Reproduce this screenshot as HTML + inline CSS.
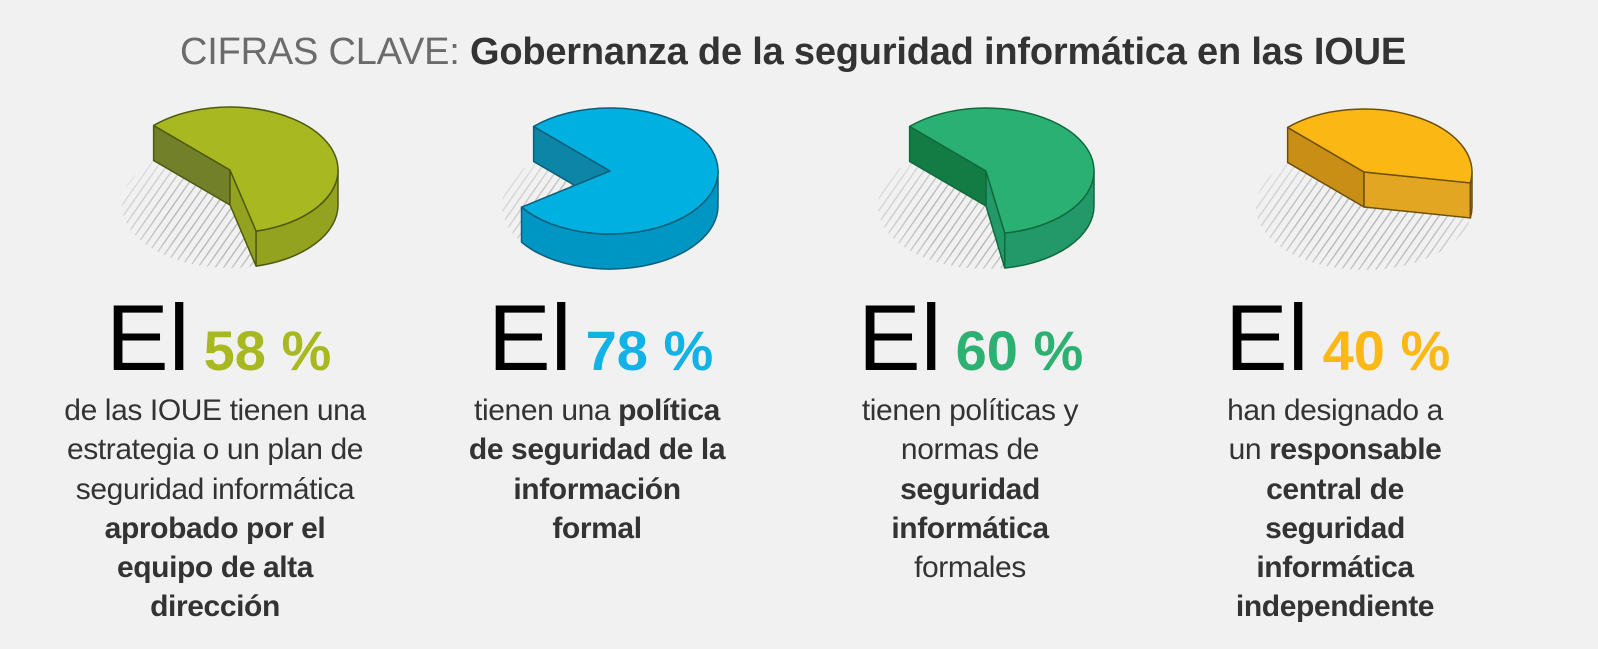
<!DOCTYPE html>
<html><head><meta charset="utf-8">
<style>
body{margin:0;width:1598px;height:649px;background:#f1f1f1;overflow:hidden;font-family:"Liberation Sans",sans-serif;position:relative}
.title{position:absolute;left:0;width:1586px;top:31px;text-align:center;font-size:38px;color:#333;letter-spacing:-0.2px;white-space:nowrap}
.title span{color:#6b6b6b}
.big{position:absolute;top:288px;white-space:nowrap;font-size:94px;color:#000;line-height:100px}
.big b{font-size:56px;margin-left:14px;letter-spacing:0}
.txt{position:absolute;top:391px;width:400px;text-align:center;font-size:30px;line-height:39.3px;color:#333;white-space:nowrap;letter-spacing:-0.4px}
svg{position:absolute;left:0;top:0}
</style></head><body>
<svg id="s" width="1598" height="649">
<defs><pattern id="h" width="7" height="7" patternUnits="userSpaceOnUse" patternTransform="rotate(35)"><rect width="1.3" height="7" fill="#b5b5b5"/></pattern>
<radialGradient id="fade" cx="0.5" cy="0.6" r="0.6"><stop offset="0.5" stop-color="#fff"/><stop offset="1" stop-color="#fff" stop-opacity="0.2"/></radialGradient>
<mask id="m" maskContentUnits="objectBoundingBox"><rect width="1" height="1" fill="url(#fade)"/></mask></defs>
</svg>
<div class="title"><span>CIFRAS CLAVE:</span> <b>Gobernanza de la seguridad informática en las IOUE</b></div>

<div class="big" style="left:106px">El<b style="color:#a8b820">58 %</b></div>
<div class="big" style="left:488px">El<b style="color:#12b2e6">78 %</b></div>
<div class="big" style="left:858px">El<b style="color:#2db172">60 %</b></div>
<div class="big" style="left:1225px">El<b style="color:#fbb816">40 %</b></div>

<div class="txt" style="left:15px">de las IOUE tienen una<br>estrategia o un plan de<br>seguridad informática<br><b>aprobado por el<br>equipo de alta<br>dirección</b></div>
<div class="txt" style="left:397px">tienen una <b>política<br>de seguridad de la<br>información<br>formal</b></div>
<div class="txt" style="left:770px">tienen políticas y<br>normas de<br><b>seguridad<br>informática</b><br>formales</div>
<div class="txt" style="left:1135px">han designado a<br>un <b>responsable<br>central de<br>seguridad<br>informática<br>independiente</b></div>

<script>
const s=document.getElementById('s');const NS='http://www.w3.org/2000/svg';
function el(t,a){const e=document.createElementNS(NS,t);for(const k in a)e.setAttribute(k,a[k]);s.appendChild(e);return e;}
const rx=108,ry=63,D=35;
function P(cx,cy,a){a=a*Math.PI/180;return [cx+rx*Math.cos(a),cy+ry*Math.sin(a)];}
function pie(cx,cy,a0,a1,top,wall,outer,stroke){
 el('ellipse',{cx:cx,cy:cy+D,rx:rx,ry:ry,fill:'url(#h)',mask:'url(#m)'});
 const p0=P(cx,cy,a0),p1=P(cx,cy,a1);
 const sw={stroke:stroke,'stroke-width':1.5,'stroke-linejoin':'round'};
 el('polygon',Object.assign({points:`${p0[0]},${p0[1]} ${cx},${cy} ${cx},${cy+D} ${p0[0]},${p0[1]+D}`,fill:wall},sw));
 if(a1<100) el('polygon',Object.assign({points:`${cx},${cy} ${p1[0]},${p1[1]} ${p1[0]},${p1[1]+D} ${cx},${cy+D}`,fill:outer},sw));
 const e=Math.min(a1,180);const q0=P(cx,cy,0),q1=P(cx,cy,e);
 el('path',Object.assign({d:`M${q0[0]},${q0[1]} A${rx},${ry} 0 0 1 ${q1[0]},${q1[1]} L${q1[0]},${q1[1]+D} A${rx},${ry} 0 0 0 ${q0[0]},${q0[1]+D} Z`,fill:outer},sw));
 const large=(a1-a0)>180?1:0;
 el('path',Object.assign({d:`M${cx},${cy} L${p0[0]},${p0[1]} A${rx},${ry} 0 ${large} 1 ${p1[0]},${p1[1]} Z`,fill:top},sw));
}
pie(230,170,-135,76,'#a8b820','#72802a','#93a21f','#4f5a10');
pie(610,171,-135,145,'#00b0e0','#0c85a6','#0096c4','#0a5f7a');
pie(986,171,-135,80,'#2ab073','#137c45','#23996a','#0f6a3c');
pie(1364,172,-135,10,'#fbb814','#c98e15','#e2a622','#6e4f0a');
</script>
</body></html>
